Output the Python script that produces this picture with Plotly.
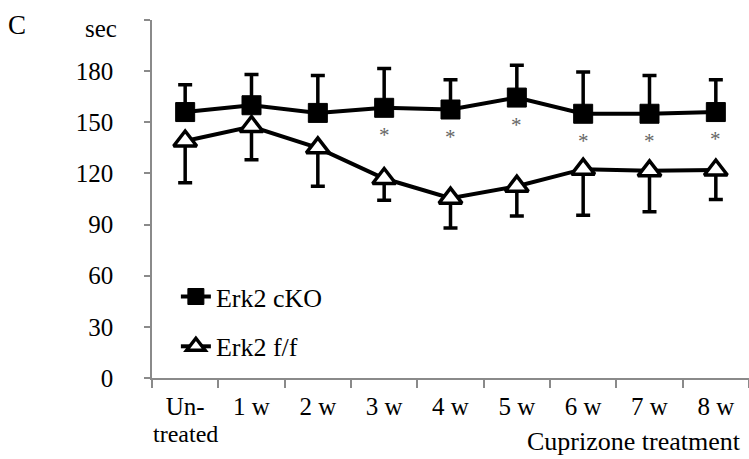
import plotly.graph_objects as go

categories = ["Untreated", "1 w", "2 w", "3 w", "4 w", "5 w", "6 w", "7 w", "8 w"]
tick_labels = ["Un-", "1 w", "2 w", "3 w", "4 w", "5 w", "6 w", "7 w", "8 w"]
cko_values = [156, 160, 155.5, 158.5, 157.5, 164.5, 155, 155, 156]
cko_err_up = [16, 18, 22, 23, 17.5, 19, 24.5, 22.5, 19]
ff_values = [139, 147.5, 135, 117, 105.5, 112.5, 122.5, 121.5, 122]
ff_err_down = [24.5, 19.5, 22.5, 12.7, 17.5, 17.5, 27, 24, 17.3]
significant = [False, False, False, True, True, True, True, True, True]
y_ticks = [0, 30, 60, 90, 120, 150, 180, 210]
y_tick_text = ["0", "30", "60", "90", "120", "150", "180", ""]

FONT = "Liberation Serif"
AXIS_GRAY = "#8a8a8a"

fig = go.Figure()
fig.add_trace(go.Scatter(
    x=categories, y=cko_values, name="Erk2 cKO", mode="lines+markers",
    line=dict(color="black", width=4),
    marker=dict(symbol="square", size=19, color="black", line=dict(color="black", width=1)),
    error_y=dict(type="data", array=cko_err_up, arrayminus=[0] * len(cko_err_up),
                 symmetric=False, color="black", thickness=3.5, width=7),
    legendgroup="a",
))
fig.add_trace(go.Scatter(
    x=categories, y=ff_values, name="Erk2 f/f", mode="lines+markers",
    line=dict(color="black", width=4),
    marker=dict(symbol="triangle-up", size=20, color="white", line=dict(color="black", width=3.5)),
    error_y=dict(type="data", array=[0] * len(ff_err_down), arrayminus=ff_err_down,
                 symmetric=False, color="black", thickness=3.5, width=7),
    legendgroup="b",
))

annotations = []
for cat, val, sig in zip(categories, cko_values, significant):
    if sig:
        annotations.append(dict(x=cat, y=val, xref="x", yref="y", text="*", showarrow=False,
                                yshift=-27, font=dict(family=FONT, size=21, color="#666666")))
annotations += [
    dict(x=categories[0], y=0, xref="x", yref="paper", text="treated", showarrow=False,
         yanchor="top", yshift=-41, font=dict(family=FONT, size=24, color="black")),
    dict(x=1, y=0, xref="paper", yref="paper", text="Cuprizone treatment", showarrow=False,
         xanchor="right", yanchor="top", xshift=-6, yshift=-47,
         font=dict(family=FONT, size=26, color="black")),
    dict(x=0, y=1, xref="paper", yref="paper", text="sec", showarrow=False,
         xanchor="right", yanchor="middle", xshift=-33, yshift=-8,
         font=dict(family=FONT, size=25, color="black")),
    dict(x=0, y=1, xref="paper", yref="paper", text="C", showarrow=False,
         xanchor="left", yanchor="top", xshift=-146, yshift=12,
         font=dict(family=FONT, size=27, color="black")),
]

fig.update_layout(
    width=749, height=459,
    margin=dict(l=152, r=0, t=20, b=81),
    paper_bgcolor="white", plot_bgcolor="white",
    font=dict(family=FONT, size=25, color="black"),
    showlegend=True,
    legend=dict(x=0.04, y=0.293, xanchor="left", yanchor="top",
                bgcolor="rgba(0,0,0,0)", font=dict(family=FONT, size=26, color="black"),
                traceorder="grouped", tracegroupgap=13),
    annotations=annotations,
    xaxis=dict(
        type="category", categoryorder="array", categoryarray=categories,
        tickmode="array", tickvals=categories, ticktext=tick_labels,
        tickson="boundaries", ticks="outside", ticklen=8, tickcolor=AXIS_GRAY, tickwidth=1.5,
        showline=True, linecolor=AXIS_GRAY, linewidth=1.5, showgrid=False, zeroline=False,
        range=[-0.5, 8.5], tickfont=dict(family=FONT, size=25, color="black"),
        ticklabelstandoff=5,
        fixedrange=True,
    ),
    yaxis=dict(
        range=[0, 210], tickmode="array", tickvals=y_ticks, ticktext=y_tick_text,
        ticks="outside", ticklen=6, tickcolor=AXIS_GRAY, tickwidth=1.5,
        showline=True, linecolor=AXIS_GRAY, linewidth=1.5, showgrid=False, zeroline=False,
        ticklabelstandoff=26, tickfont=dict(family=FONT, size=25, color="black"),
        fixedrange=True,
    ),
)

fig.write_html("out.html")
